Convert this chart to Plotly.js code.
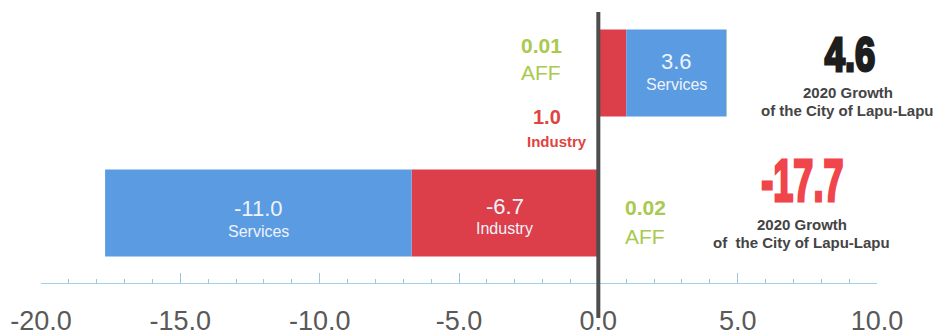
<!DOCTYPE html>
<html>
<head>
<meta charset="utf-8">
<script src="https://cdn.plot.ly/plotly-3.0.1.min.js"></script>
<style>
  html, body { margin: 0; padding: 0; background: #ffffff; }
  #chart { width: 935px; height: 336px; }
  /* condensed, heavy look for the two headline totals */
  g.annotation text.annotation-text.squeeze {
    transform-box: fill-box;
    transform-origin: center;
    paint-order: stroke;
    stroke-width: 3px;
    stroke-linejoin: miter;
  }
</style>
</head>
<body>
<div id="chart"></div>
<script>
// Two growth rows, bottom row first (category index 0 sits at the bottom)
const rows = ["row2", "row1"];
const industry = [-6.7, 1.0];
const services = [-11.0, 3.6];
const aff = [0.02, 0.01];
const subtitleLines = ["2020 Growth", "of the City of Lapu-Lapu"];
const xTicks = [-20, -15, -10, -5, 0, 5, 10];

const BLUE = "#5b9be2";
const RED = "#dc3f4a";
const GREEN = "#a9c94f";
const LABEL_RED = "#e0443f";
const INSIDE_TXT = "#eef3fb";
const TOTAL_DARK = "#1e1e1e";
const TOTAL_RED = "#f0454a";
const SANS = "Liberation Sans, Arial, sans-serif";

const fmt1 = v => v.toFixed(1);
const fmt2 = v => v.toFixed(2);
const totals = rows.map((_, i) => industry[i] + services[i] + aff[i]);

const traces = [
  { name: "Industry", x: industry, color: RED },
  { name: "Services", x: services, color: BLUE },
  { name: "AFF", x: aff, color: GREEN }
].map(s => ({
  type: "bar", orientation: "h", name: s.name,
  y: rows, x: s.x, marker: { color: s.color, line: { width: 0 } },
  textposition: "none", hoverinfo: "skip"
}));

// pixel helpers for the plot area (top 3px, height 280px)
const PT = 3, PH = 280;
const py = p => (PT + PH - p) / PH;

function ann(x, yPix, text, font, extra) {
  return Object.assign({
    xref: "x", yref: "paper", x: x, y: py(yPix), text: text, font: font,
    showarrow: false, xanchor: "center", yanchor: "middle"
  }, extra || {});
}

// labels centred inside the wide segments, placed at each segment's midpoint
const valFont = { family: SANS, size: 22, color: INSIDE_TXT };
const nameFont = { family: SANS, size: 16, color: INSIDE_TXT };
const servicesMid = rows.map((_, i) => industry[i] + services[i] / 2);
const industryMid = rows.map((_, i) => industry[i] / 2);

const annotations = [
  ann(servicesMid[1], 61, fmt1(services[1]), valFont),
  ann(servicesMid[1], 85, "Services", nameFont),
  ann(servicesMid[0], 208, fmt1(services[0]), valFont),
  ann(servicesMid[0], 231, "Services", nameFont),
  ann(industryMid[0], 206, fmt1(industry[0]), valFont),
  ann(industryMid[0], 228, "Industry", nameFont),

  // AFF share, upper row
  ann(-2.05, 45, "<b>" + fmt2(aff[1]) + "</b>", { family: SANS, size: 21, color: GREEN }),
  ann(-2.05, 72, "AFF", { family: SANS, size: 21, color: GREEN }),
  // Industry share, upper row (segment too thin for an inside label)
  ann(-1.83, 117, "<b>" + fmt1(industry[1]) + "</b>", { family: SANS, size: 20, color: LABEL_RED }),
  ann(-1.47, 141, "<b>Industry</b>", { family: SANS, size: 15, color: LABEL_RED }),
  // AFF share, lower row
  ann(1.68, 207, "<b>" + fmt2(aff[0]) + "</b>", { family: SANS, size: 21, color: GREEN }),
  ann(1.68, 236, "AFF", { family: SANS, size: 21, color: GREEN }),

  // City totals
  ann(9.04, 53.5, "<b>" + fmt1(totals[1]) + "</b>", { family: SANS, size: 49, color: TOTAL_DARK },
      { name: "totalTop" }),
  ann(8.96, 92.5, "<b>" + subtitleLines[0] + "</b>", { family: SANS, size: 15, color: "#444444" }),
  ann(8.92, 111, "<b>" + subtitleLines[1] + "</b>", { family: SANS, size: 15, color: "#444444" }),
  ann(7.34, 180.5, "<b>" + fmt1(totals[0]) + "</b>", { family: SANS, size: 60, color: TOTAL_RED },
      { name: "totalBottom" }),
  ann(7.30, 224, "<b>" + subtitleLines[0] + "</b>", { family: SANS, size: 15, color: "#444444" }),
  ann(7.28, 242.5, "<b>" + subtitleLines[1].replace("of the", "of&nbsp; the") + "</b>",
      { family: SANS, size: 15, color: "#444444" })
];

const layout = {
  width: 935, height: 336,
  margin: { l: 41, r: 58, t: PT, b: 336 - PT - PH },
  paper_bgcolor: "#ffffff", plot_bgcolor: "#ffffff",
  barmode: "relative", bargap: 0.38,
  showlegend: false,
  xaxis: {
    range: [-20, 10], tickvals: xTicks, ticktext: xTicks.map(v => v.toFixed(1)),
    showgrid: false, zeroline: false,
    showline: true, linecolor: "#9fd2e8", linewidth: 1,
    ticks: "inside", ticklen: 10, tickwidth: 1, tickcolor: "#9cc6da",
    minor: { dtick: 1, ticks: "inside", ticklen: 4, tickwidth: 1, tickcolor: "#9cc6da" },
    tickfont: { family: SANS, size: 27, color: "#595959" },
    ticklabelstandoff: 14,
    fixedrange: true
  },
  yaxis: {
    type: "category", categoryarray: rows, range: [-0.5, 1.5],
    showticklabels: false, showgrid: false, zeroline: false, showline: false, ticks: "",
    fixedrange: true
  },
  shapes: [
    { type: "line", xref: "x", yref: "paper", x0: 0, x1: 0, y0: py(12), y1: py(318),
      line: { color: "#4d4d4d", width: 4 }, layer: "above" }
  ],
  annotations: annotations
};

// horizontal squeeze and outline colour per headline total
const squeeze = {
  totalTop: { sx: 0.74, color: TOTAL_DARK },
  totalBottom: { sx: 0.6, color: TOTAL_RED }
};

function applySqueeze() {
  annotations.forEach((a, i) => {
    const s = squeeze[a.name];
    if (!s) return;
    const t = document.querySelector('g.annotation[data-index="' + i + '"] text.annotation-text');
    if (t) {
      t.classList.add("squeeze");
      t.style.transform = "scaleX(" + s.sx + ")";
      t.style.stroke = s.color;
    }
  });
}

Plotly.newPlot("chart", traces, layout, { displayModeBar: false, staticPlot: true })
  .then(applySqueeze);
</script>
</body>
</html>
